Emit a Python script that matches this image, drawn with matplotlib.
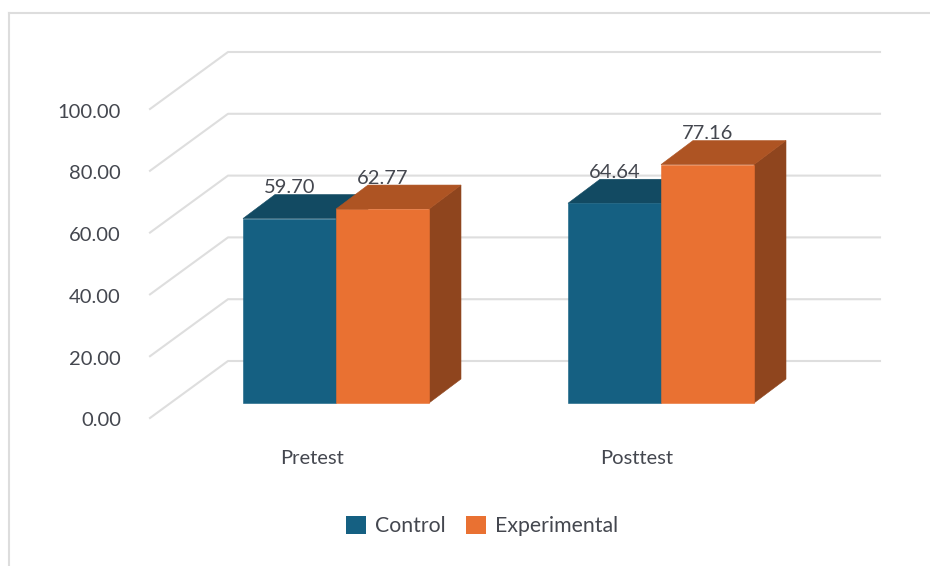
import matplotlib
matplotlib.use('Agg')
import matplotlib.pyplot as plt
from matplotlib.lines import Line2D
from matplotlib.patches import Patch, Polygon

# ── Data ───────────────────────────────────────────────────────────────
groups = ['Pretest', 'Posttest']
control = [59.70, 64.64]
experimental = [62.77, 77.16]
y_ticks = [0, 20, 40, 60, 80, 100]

# ── Style ──────────────────────────────────────────────────────────────
W, H = 930, 566
TEXT = '#44474F'
GRID = '#DEDEDE'
BORDER = '#DDDDDD'
CONTROL = ('#156082', '#124A62', '#0E3E52')  # front, top, side
EXPER = ('#E97132', '#AE5423', '#8F451E')
FONT = 14.5
FONT_LEGEND = 15.3

PX_X = 325.0  # pixels per group
PX_Y = 3.09  # pixels per value unit
X0, Y0 = 336, 403  # pixel of group 0 centre / value 0 on the bar plane
BAR_W = 93 / PX_X
DEPTH = (32 / PX_X, 24 / PX_Y)
WALL_FRONT = (-186 / PX_X, -15 / PX_Y)
WALL_BACK = (-108 / PX_X, 42 / PX_Y)
WALL_END = 544 / PX_X

plt.rcParams['font.family'] = ['Lato', 'DejaVu Sans']

fig = plt.figure(figsize=(W / 100, H / 100), dpi=100)
ax = fig.add_axes([0, 0, 1, 1])
ax.set_xlim(-X0 / PX_X, (W - X0) / PX_X)
ax.set_ylim(-(H - Y0) / PX_Y, Y0 / PX_Y)
ax.axis('off')

# outer frame, top and left only
fig.add_artist(Line2D([9 / W, 9 / W], [0, 1 - 13 / H], color=BORDER, lw=1.5))
fig.add_artist(Line2D([9 / W, 1], [1 - 13 / H, 1 - 13 / H], color=BORDER, lw=1.5))

for v in y_ticks:
    ax.plot(
        [WALL_FRONT[0], WALL_BACK[0], WALL_END],
        [v + WALL_FRONT[1], v + WALL_BACK[1], v + WALL_BACK[1]],
        color=GRID,
        lw=1.5,
        zorder=1,
    )
    ax.annotate(
        f'{v:.2f}',
        (WALL_FRONT[0] - 29 / PX_X, v + WALL_FRONT[1]),
        xytext=(0, -3),
        textcoords='offset pixels',
        ha='right',
        va='center',
        color=TEXT,
        fontsize=FONT,
    )


def bar_3d(x0, value, colors, z):
    """Front face, top and right side of one extruded bar."""
    x1 = x0 + BAR_W
    dx, dy = DEPTH
    front, top, side = colors
    ax.add_patch(Polygon([(x1, 0), (x1 + dx, dy), (x1 + dx, value + dy), (x1, value)], fc=side, ec=side, lw=0.4, zorder=z))
    ax.add_patch(Polygon([(x0, value), (x0 + dx, value + dy), (x1 + dx, value + dy), (x1, value)], fc=top, ec=top, lw=0.4, zorder=z))
    ax.add_patch(Polygon([(x0, 0), (x0, value), (x1, value), (x1, 0)], fc=front, ec=front, lw=0.4, zorder=z + 0.1))
    ax.annotate(
        f'{value:.2f}',
        (x0 + BAR_W / 2 + dx / 2, value + dy),
        xytext=(-16, 7),
        textcoords='offset pixels',
        ha='center',
        va='center',
        color=TEXT,
        fontsize=FONT,
        zorder=5,
    )


for i, name in enumerate(groups):
    bar_3d(i - BAR_W, control[i], CONTROL, 2)
    bar_3d(i, experimental[i], EXPER, 3)
    ax.text(i - 24 / PX_X, -55 / PX_Y, name, ha='center', va='center', color=TEXT, fontsize=FONT)

handles = [Patch(fc=CONTROL[0], label='Control'), Patch(fc=EXPER[0], label='Experimental')]
fig.legend(
    handles=handles,
    loc='center',
    bbox_to_anchor=(482 / W, 1 - 526 / H),
    ncol=2,
    frameon=False,
    fontsize=FONT_LEGEND,
    labelcolor=TEXT,
    handlelength=0.92,
    handleheight=0.92,
    handletextpad=0.42,
    columnspacing=1.0,
    borderpad=0,
)

fig.savefig('out.png', dpi=100)
